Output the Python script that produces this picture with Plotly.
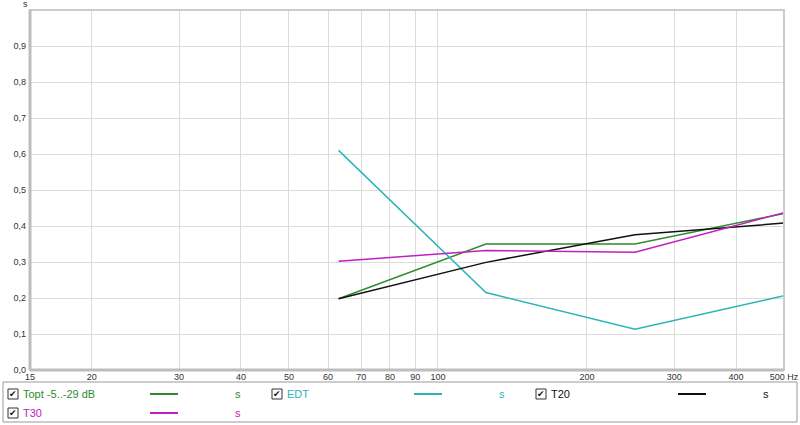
import math
import plotly.graph_objects as go

freqs = [63, 125, 250, 500]
topt = [0.198, 0.350, 0.350, 0.435]
edt = [0.610, 0.215, 0.113, 0.206]
t20 = [0.198, 0.299, 0.376, 0.408]
t30 = [0.302, 0.332, 0.327, 0.437]

series_names = ["Topt -5..-29 dB", "EDT", "T20", "T30"]
series_colors = ["#2e8b2e", "#2bb5b8", "#111111", "#c020c0"]
series_values = [topt, edt, t20, t30]

x_ticks = [15, 20, 30, 40, 50, 60, 70, 80, 90, 100, 200, 300, 400, 500]
x_tick_text = ["15", "20", "30", "40", "50", "60", "70", "80", "90", "100", "200", "300", "400", "500 Hz"]
y_ticks = [0, 0.1, 0.2, 0.3, 0.4, 0.5, 0.6, 0.7, 0.8, 0.9]
y_tick_text = ["0,0", "0,1", "0,2", "0,3", "0,4", "0,5", "0,6", "0,7", "0,8", "0,9"]

W, H = 800, 425
L, R, T, B = 30, 16, 10, 55
pw, ph = W - L - R, H - T - B

def px(x):
    return (x - L) / pw

def py(y):
    return (H - B - y) / ph

fig = go.Figure()
for name, col, vals in zip(series_names, series_colors, series_values):
    fig.add_trace(go.Scatter(x=freqs, y=vals, mode="lines", name=name,
                             line=dict(color=col, width=1.5), showlegend=False))

font = "Liberation Sans, Arial, sans-serif"
shapes = []
annotations = []

# plot frame (top/right light border)
shapes.append(dict(type="rect", xref="paper", yref="paper", x0=0, x1=1, y0=0, y1=1,
                   line=dict(color="#cccccc", width=2), layer="above"))
# thicker left/bottom axes
shapes.append(dict(type="line", xref="paper", yref="paper", x0=0, x1=0, y0=0, y1=1,
                   line=dict(color="#bdbdbd", width=3), layer="above"))
shapes.append(dict(type="line", xref="paper", yref="paper", x0=0, x1=1, y0=0, y1=0,
                   line=dict(color="#bdbdbd", width=3), layer="above"))

# legend box
shapes.append(dict(type="rect", xref="paper", yref="paper", x0=px(3), x1=px(797),
                   y0=py(422), y1=py(382), line=dict(color="#999999", width=1)))

legend_items = [
    (0, 8, 394),
    (1, 272, 394),
    (2, 536, 394),
    (3, 8, 413),
]
for idx, cx, cy in legend_items:
    col = series_colors[idx]
    shapes.append(dict(type="rect", xref="paper", yref="paper", x0=px(cx), x1=px(cx + 10),
                       y0=py(cy + 5), y1=py(cy - 5), line=dict(color="#333333", width=1),
                       fillcolor="white"))
    annotations.append(dict(xref="paper", yref="paper", x=px(cx + 5), y=py(cy), text="✔",
                            showarrow=False, font=dict(family="DejaVu Sans", size=9, color="#111111"),
                            xanchor="center", yanchor="middle"))
    annotations.append(dict(xref="paper", yref="paper", x=px(cx + 13), y=py(cy), text=series_names[idx],
                            showarrow=False, font=dict(family=font, size=11, color=col),
                            xanchor="left", yanchor="middle"))
    shapes.append(dict(type="line", xref="paper", yref="paper", x0=px(cx + 142), x1=px(cx + 170),
                       y0=py(cy), y1=py(cy), line=dict(color=col, width=2)))
    annotations.append(dict(xref="paper", yref="paper", x=px(cx + 230), y=py(cy), text="s",
                            showarrow=False, font=dict(family=font, size=11, color=col),
                            xanchor="center", yanchor="middle"))

# unit label on y axis
annotations.append(dict(xref="paper", yref="paper", x=px(25), y=py(4), text="s", showarrow=False,
                        font=dict(family=font, size=9, color="#333333"), xanchor="center", yanchor="middle"))

fig.update_layout(
    width=W, height=H, autosize=False,
    margin=dict(l=L, r=R, t=T, b=B, autoexpand=False),
    paper_bgcolor="white", plot_bgcolor="white",
    font=dict(family=font, size=9, color="#333333"),
    xaxis=dict(type="log", range=[math.log10(15), math.log10(500)],
               tickvals=x_ticks, ticktext=x_tick_text, showgrid=True, automargin=False,
               gridcolor="#dcdcdc", gridwidth=1, zeroline=False, showline=False,
               ticks="", tickfont=dict(size=9, color="#333333"), ticklabeloverflow="allow"),
    yaxis=dict(range=[0, 1], tickvals=y_ticks, ticktext=y_tick_text, showgrid=True, automargin=False,
               gridcolor="#dcdcdc", gridwidth=1, zeroline=False, showline=False,
               ticks="", tickfont=dict(size=9, color="#333333"), ticklabelstandoff=3),
    shapes=shapes, annotations=annotations,
)

fig.write_html("out.html", config={"displayModeBar": False, "responsive": False},
               post_script="document.body.style.margin='0';document.body.style.overflow='hidden';")
